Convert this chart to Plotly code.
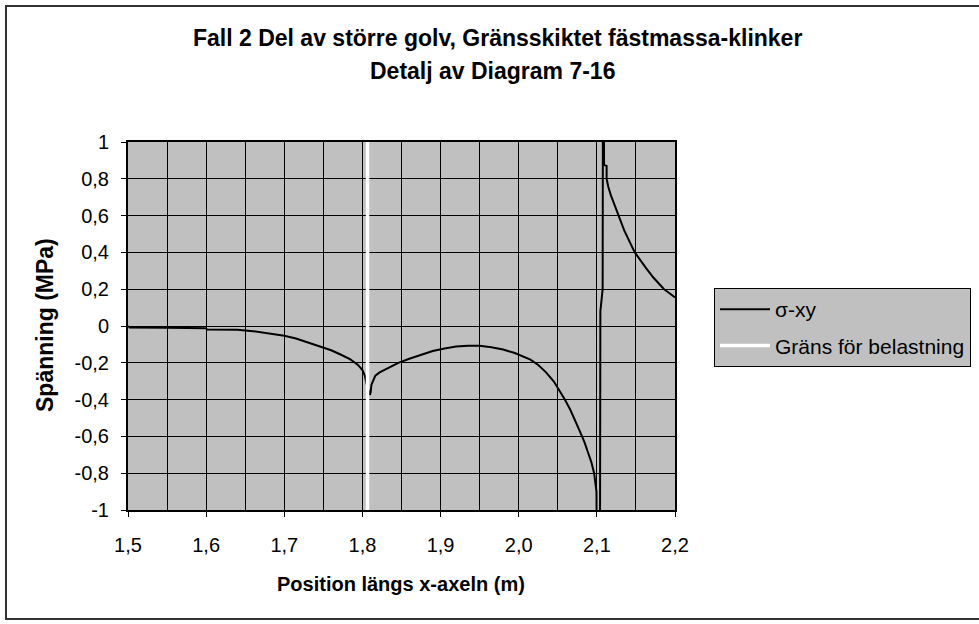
import plotly.graph_objects as go

# Shear stress sigma-xy along the x-axis (m -> MPa)
x_sigma = [
    1.500, 1.502, 1.550, 1.600, 1.601, 1.640, 1.660, 1.680, 1.700, 1.715,
    1.725, 1.738, 1.748, 1.760, 1.772, 1.784, 1.794, 1.800, 1.803, 1.805,
    1.8095, 1.8105, 1.8115, 1.8135, 1.8165, 1.822, 1.829, 1.838, 1.846, 1.860,
    1.875, 1.890, 1.905, 1.920, 1.935, 1.950, 1.965, 1.980, 1.995, 2.005,
    2.015, 2.025, 2.035, 2.045, 2.052, 2.059, 2.066, 2.072, 2.078, 2.084,
    2.089, 2.093, 2.0965, 2.098, 2.0995, 2.1000, 2.1040, 2.1045, 2.1050,
    2.1074, 2.1078, 2.1090, 2.1092, 2.1125, 2.1125, 2.1146, 2.118, 2.122,
    2.1274, 2.135, 2.1485, 2.155, 2.163, 2.172, 2.186, 2.193, 2.200,
]
y_sigma = [
    0.000, -0.008, -0.010, -0.012, -0.019, -0.021, -0.028, -0.039, -0.053, -0.068,
    -0.082, -0.098, -0.113, -0.132, -0.155, -0.180, -0.210, -0.240, -0.268, -0.310,
    -0.375, -0.360, -0.320, -0.295, -0.270, -0.252, -0.237, -0.218, -0.200, -0.178,
    -0.155, -0.136, -0.122, -0.112, -0.107, -0.108, -0.115, -0.128, -0.147, -0.163,
    -0.183, -0.212, -0.252, -0.302, -0.348, -0.400, -0.455, -0.510, -0.570, -0.630,
    -0.690, -0.740, -0.800, -0.840, -0.900, -1.300, -1.300, 0.080, 0.110,
    0.200, 1.300, 1.300, 0.875, 0.870, 0.800, 0.757, 0.710, 0.665,
    0.600, 0.520, 0.400, 0.360, 0.315, 0.265, 0.200, 0.178, 0.155,
]

# Load boundary (vertical line)
x_limit = [1.8065, 1.8065]
y_limit = [-1.0, 1.0]

x_ticks = [1.5, 1.6, 1.7, 1.8, 1.9, 2.0, 2.1, 2.2]
x_ticklabels = ["1,5", "1,6", "1,7", "1,8", "1,9", "2,0", "2,1", "2,2"]
y_ticks = [-1.0, -0.8, -0.6, -0.4, -0.2, 0.0, 0.2, 0.4, 0.6, 0.8, 1.0]
y_ticklabels = ["-1", "-0,8", "-0,6", "-0,4", "-0,2", "0", "0,2", "0,4", "0,6", "0,8", "1"]

FONT = "Liberation Sans, Arial, sans-serif"
GREY = "#C0C0C0"

# Plot-area box in pixels (used to place the free text and the outer frame)
L, R, T, B = 128, 675, 142, 510
W, H = 979, 624


def px_x(p):
    return (p - L) / (R - L)


def px_y(p):
    return (B - p) / (B - T)


fig = go.Figure()
fig.add_trace(go.Scatter(
    x=x_sigma, y=y_sigma, mode="lines", name="σ-xy",
    line=dict(color="black", width=2), legendgroup="a",
))
fig.add_trace(go.Scatter(
    x=x_limit, y=y_limit, mode="lines", name="Gräns för belastning",
    line=dict(color="white", width=3.5), legendgroup="b",
))

axis_common = dict(
    showgrid=True, gridcolor="black", gridwidth=1,
    showline=True, linecolor="black", linewidth=2, mirror=True,
    ticks="outside", ticklen=5, tickcolor="black", tickwidth=1,
    zeroline=False, tickfont=dict(family=FONT, size=20, color="black"),
)

fig.update_xaxes(
    range=[1.5, 2.2], tickvals=x_ticks, ticktext=x_ticklabels,
    minor=dict(dtick=0.05, tick0=1.5, showgrid=True, gridcolor="black",
               gridwidth=1, ticks=""),
    ticklabelstandoff=11, **axis_common,
)
fig.update_yaxes(
    range=[-1, 1], tickvals=y_ticks, ticktext=y_ticklabels,
    ticklabelstandoff=8, **axis_common,
)

annotations = [
    dict(text="<b>Fall 2 Del av större golv, Gränsskiktet fästmassa-klinker</b>",
         x=px_x(497), y=px_y(38), font=dict(size=23)),
    dict(text="<b>Detalj av Diagram 7-16</b>",
         x=px_x(492), y=px_y(71), font=dict(size=23)),
    dict(text="<b>Position längs x-axeln (m)</b>",
         x=px_x(401), y=px_y(584), font=dict(size=20)),
    dict(text="<b>Spänning (MPa)</b>", textangle=-90,
         x=px_x(45), y=px_y(325), font=dict(size=23)),
]
for a in annotations:
    a.update(xref="paper", yref="paper", showarrow=False,
             xanchor="center", yanchor="middle")
    a["font"].update(family=FONT, color="black")

fig.update_layout(
    width=W, height=H,
    margin=dict(l=L, r=W - R, t=T, b=H - B, autoexpand=False),
    paper_bgcolor="white", plot_bgcolor=GREY,
    font=dict(family=FONT, color="black"),
    annotations=annotations,
    showlegend=True,
    legend=dict(
        x=px_x(714), y=px_y(288), xanchor="left", yanchor="top",
        bgcolor=GREY, bordercolor="black", borderwidth=1,
        font=dict(family=FONT, size=21, color="black"),
        tracegroupgap=6, itemwidth=50,
    ),
    shapes=[dict(
        type="rect", xref="paper", yref="paper",
        x0=px_x(6), x1=px_x(990), y0=px_y(619), y1=px_y(6),
        line=dict(color="#333333", width=2), fillcolor="rgba(0,0,0,0)",
        layer="below",
    )],
)

fig.write_html("out.html")
